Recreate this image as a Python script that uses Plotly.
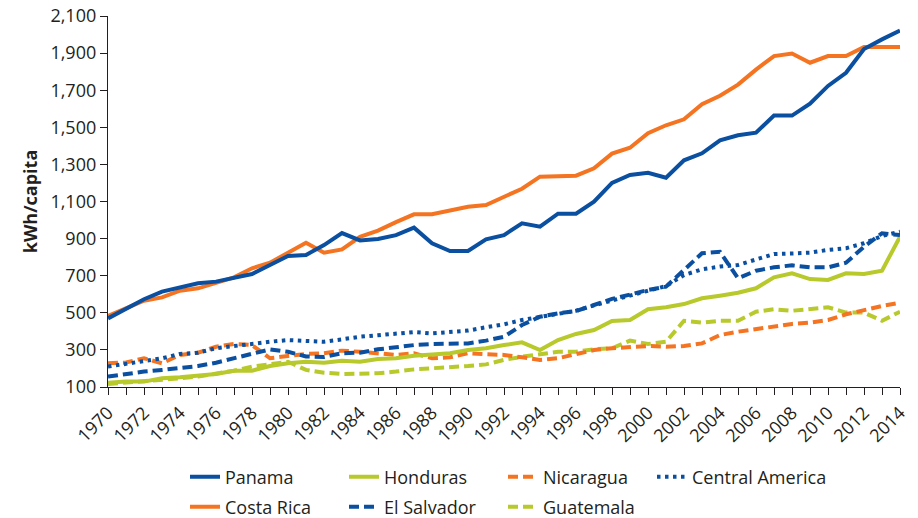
import plotly.graph_objects as go

years = list(range(1970, 2015))

panama = [470, 524, 573, 614, 637, 659, 668, 686, 709, 758, 806, 812, 865, 930, 890, 898, 919, 959, 875, 833,
          833, 896, 919, 982, 964, 1034, 1034, 1099, 1200, 1243, 1255, 1228, 1322, 1360, 1430, 1457, 1471, 1563,
          1563, 1627, 1723, 1794, 1922, 1974, 2021]
costa_rica = [483, 524, 565, 583, 619, 632, 662, 691, 740, 770, 824, 878, 824, 842, 910, 943, 989, 1031, 1031,
              1050, 1072, 1081, 1126, 1169, 1234, 1234, 1239, 1279, 1358, 1390, 1468, 1511, 1543, 1624, 1670, 1730,
              1811, 1884, 1898, 1848, 1884, 1884, 1933, 1933, 1933]
honduras = [123, 129, 129, 147, 152, 159, 170, 188, 188, 213, 228, 236, 231, 242, 236, 251, 255, 269, 273, 282,
            299, 309, 326, 341, 299, 353, 386, 407, 456, 461, 519, 530, 547, 578, 592, 608, 632, 691, 713, 682,
            677, 713, 709, 727, 910]
el_salvador = [156, 170, 183, 192, 204, 213, 231, 255, 278, 303, 290, 265, 262, 282, 285, 303, 314, 326, 332, 332,
               335, 350, 371, 434, 479, 497, 509, 542, 575, 598, 623, 641, 734, 821, 829, 686, 727, 745, 756, 745,
               745, 770, 856, 929, 919]
nicaragua = [228, 232, 255, 228, 273, 285, 317, 332, 326, 255, 267, 278, 282, 296, 290, 282, 273, 282, 255, 260,
             282, 277, 273, 260, 246, 255, 277, 299, 309, 317, 321, 317, 321, 335, 380, 398, 411, 425, 440, 447,
             461, 492, 515, 537, 554]
guatemala = [116, 123, 129, 138, 147, 156, 170, 188, 210, 224, 236, 192, 177, 170, 170, 174, 183, 195, 201, 206,
             213, 222, 246, 263, 277, 290, 290, 303, 309, 350, 332, 344, 457, 447, 457, 457, 506, 519, 511, 519,
             530, 501, 501, 457, 506]
central_america = [210, 224, 242, 255, 278, 285, 309, 321, 335, 344, 353, 349, 344, 357, 371, 379, 386, 396, 389,
                   396, 404, 422, 438, 461, 479, 497, 511, 540, 567, 596, 619, 644, 704, 734, 749, 758, 788, 817,
                   820, 824, 839, 848, 875, 914, 937]

BLUE = "#0a4fa0"
ORANGE = "#f47421"
GREEN = "#b8c92c"
TXT = "#231f20"

# (name, values, colour, dash, legend box)
series = [
    ("Panama", panama, BLUE, "solid", "legend"),
    ("Honduras", honduras, GREEN, "solid", "legend"),
    ("Nicaragua", nicaragua, ORANGE, "10px,5px", "legend"),
    ("Central America", central_america, BLUE, "3.5px,4.5px", "legend3"),
    ("Costa Rica", costa_rica, ORANGE, "solid", "legend2"),
    ("El Salvador", el_salvador, BLUE, "10px,5px", "legend2"),
    ("Guatemala", guatemala, GREEN, "10px,5px", "legend2"),
]
names = [s[0] for s in series]

# draw order: lower lines first, big ones on top
draw_order = ["Guatemala", "Nicaragua", "Honduras", "El Salvador", "Central America", "Costa Rica", "Panama"]

fig = go.Figure()
for name in draw_order:
    _, vals, col, dash, leg = series[names.index(name)]
    fig.add_trace(go.Scatter(
        x=years, y=vals, name=name, mode="lines",
        line=dict(color=col, width=4, dash=dash),
        legend=leg,
        legendrank=names.index(name) + 1,
    ))

# figure is shown with the page's default 8px body margin
W, H = 910, 510
FONT = "Open Sans, Liberation Sans, sans-serif"
leg_common = dict(
    orientation="h", xanchor="left", yanchor="middle",
    xref="container", yref="container",
    font=dict(size=18, color=TXT, family=FONT),
    traceorder="normal", bgcolor="rgba(0,0,0,0)",
)
LEG_X = 177 / W
ROW1 = 1 - 469 / H
ROW2 = 1 - 499 / H
fig.update_layout(
    width=W, height=H,
    margin=dict(l=100, r=18, t=8, b=131, autoexpand=False),
    paper_bgcolor="white", plot_bgcolor="white",
    font=dict(family=FONT, size=18, color=TXT),
    showlegend=True,
    legend=dict(x=LEG_X, y=ROW1, entrywidth=114, entrywidthmode="pixels", **leg_common),
    legend2=dict(x=LEG_X, y=ROW2, entrywidth=114, entrywidthmode="pixels", **leg_common),
    legend3=dict(x=644 / W, y=ROW1, **leg_common),
    xaxis=dict(
        range=[1970, 2014], tick0=1970, dtick=2, tickangle=-45,
        showline=True, linecolor=TXT, linewidth=1.3,
        ticks="outside", ticklen=7, tickcolor=TXT, tickwidth=1.3,
        minor=dict(dtick=1, tick0=1970, ticks="outside", ticklen=7, tickcolor=TXT, tickwidth=1.3),
        showgrid=False, zeroline=False, automargin=False,
        ticklabeloverflow="allow",
        tickfont=dict(size=18),
    ),
    yaxis=dict(
        range=[100, 2100], tick0=100, dtick=200, tickformat=",",
        showline=True, linecolor=TXT, linewidth=1.3,
        ticks="outside", ticklen=7, tickcolor=TXT, tickwidth=1.3,
        showgrid=False, zeroline=False, automargin=False,
        ticklabeloverflow="allow",
        tickfont=dict(size=18),
        title=dict(text="<b>kWh/capita</b>", font=dict(size=18), standoff=8),
    ),
)

fig.write_html("out.html")
